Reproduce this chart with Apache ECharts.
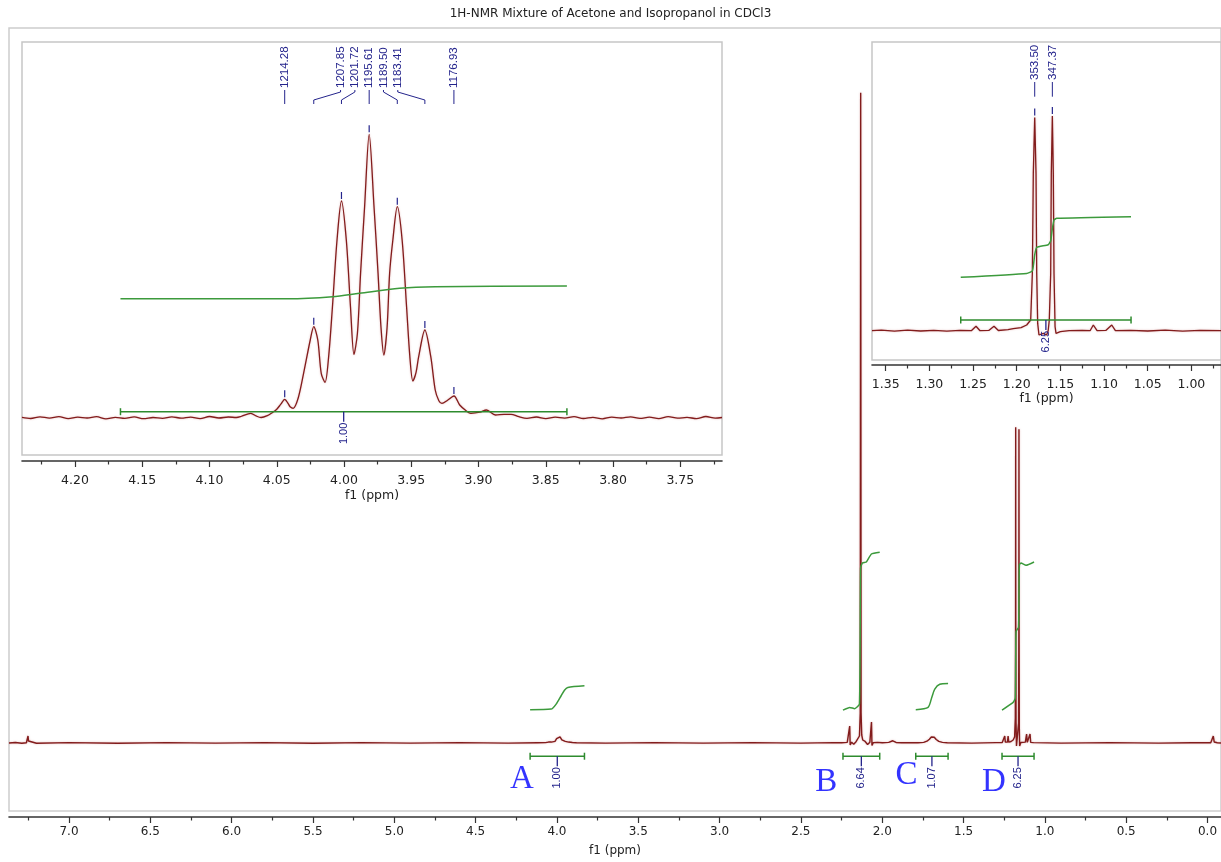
<!DOCTYPE html>
<html><head><meta charset="utf-8">
<script src="https://cdn.jsdelivr.net/npm/echarts@6/dist/echarts.min.js"></script>
<style>html,body{margin:0;padding:0;background:#fff}#c{width:1221px;height:862px}</style>
</head><body><div id="c"></div><script>
// ---------------- DATA ----------------
const titleText = '1H-NMR Mixture of Acetone and Isopropanol in CDCl3';
const axisName = 'f1 (ppm)';

// main spectrum [ppm, intensity]
const mainSpectrum = [
 [7.369,0],[7.33,0.4],[7.29,-0.3],[7.262,0.2],[7.255,2],[7.252,7],[7.249,2],[7.242,0.2],[7.20,-0.3],[7.0,0.3],[6.7,-0.3],[6.4,0.3],[6.1,-0.2],[5.8,0.3],[5.5,-0.3],[5.2,0.3],[4.9,-0.2],[4.6,0.3],[4.3,-0.2],[4.12,0.2],
 [4.07,0.3],[4.052,0.9],[4.044,1.3],[4.034,0.9],[4.023,2.4],[4.012,1.6],[4.002,4.4],[3.991,3.2],[3.981,6.2],[3.970,3.2],[3.960,4.4],[3.949,1.6],[3.939,2.3],[3.928,0.9],[3.918,1.2],[3.905,0.4],[3.88,0.2],
 [3.7,-0.2],[3.4,0.3],[3.1,-0.2],[2.8,0.3],[2.5,-0.2],[2.30,0.3],[2.25,0.2],
 [2.215,0.6],[2.203,0.4],[2.200,17],[2.197,-2],[2.188,0.8],[2.175,-1.2],[2.160,1.5],[2.148,3],[2.140,7],[2.135,30],[2.1325,652.7],[2.130,30],[2.126,8],[2.120,3],[2.105,1.5],[2.090,-1.5],[2.076,0.8],[2.069,0.4],[2.066,21],[2.063,-2.5],[2.055,0.3],[2.03,0.6],[2.0,0.2],[1.96,0.6],[1.935,2.2],[1.915,0.5],[1.88,0.2],
 [1.78,0.2],[1.745,0.6],[1.725,1.8],[1.71,3.8],[1.698,6],[1.690,7],[1.680,5.8],[1.668,3.5],[1.652,1.6],[1.63,0.6],[1.60,0.2],
 [1.45,-0.2],[1.30,0.3],[1.262,0.4],[1.250,0.8],[1.2466,7],[1.243,0.8],[1.230,0.8],[1.2260,7],[1.222,0.8],[1.208,1.5],[1.195,3],[1.186,6],[1.1815,25],[1.1800,120],[1.1794,317],[1.1788,120],[1.1772,20],[1.1745,-3],[1.1695,-2],[1.1650,-3],[1.1615,20],[1.1598,120],[1.1592,315],[1.1586,120],[1.1570,15],[1.1550,-3],[1.148,0.4],[1.120,0.8],[1.1123,9],[1.108,0.6],[1.096,0.6],[1.0912,9],[1.087,0.6],[1.07,0.3],
 [0.9,-0.2],[0.6,0.3],[0.3,-0.2],[0.1,0.2],[-0.02,0.2],[-0.030,1],[-0.0357,7],[-0.041,1],[-0.06,0.2],[-0.083,0]
];
// main integral curves
const integralA = [[4.1649,33.4],[4.0357,34],[4.0049,39],[3.9742,47.4],[3.9537,53],[3.9335,55.7],[3.8308,57.4]];
const integralB = [[2.2413,33],[2.2000,35.7],[2.1692,34.4],[2.1400,39],[2.1330,175.7],[2.1218,180.7],[2.0972,181.7],[2.0665,189.7],[2.0154,191.4]];
const integralC = [[1.7938,33.4],[1.7182,35.7],[1.6954,45.7],[1.6769,54],[1.6462,59],[1.5951,59.7]];
const integralD = [[1.2634,33],[1.1951,40.7],[1.1820,45],[1.1794,80],[1.1770,112],[1.1620,116],[1.1592,150],[1.1565,179],[1.1466,180.7],[1.1159,178.4],[1.0665,181.7]];
// main integration ranges
const mainRangeFrom = [4.1649, 2.2413, 1.7938, 1.2634];
const mainRangeTo = [3.8308, 2.0154, 1.5951, 1.0665];
const mainRangeValue = ['1.00', '6.64', '1.07', '6.25'];
// region letters
const letters = ['A', 'B', 'C', 'D'];
const letterPpm = [4.2154, 2.3434, 1.8511, 1.3126];
const letterH = [-36.3, -39.3, -32.3, -39.3];

// septet inset
const septetSpectrum = [
 [4.2394,0.3],[4.233,-0.8],[4.226,0.9],[4.219,-0.4],[4.212,1.1],[4.205,-0.9],[4.198,0.5],[4.191,-0.3],[4.184,1.0],[4.177,-1.2],[4.170,0.4],[4.163,-0.6],[4.156,0.8],[4.149,-1.0],[4.142,0.2],[4.135,-0.7],[4.128,0.9],[4.121,-0.5],[4.114,0.6],[4.107,-0.9],[4.100,1.2],[4.093,-0.3],[4.086,0.7],[4.080,0.2],
 [4.0766,1.2],[4.0693,4.4],[4.0650,1.5],[4.0617,0.2],[4.0570,2],[4.0534,5],[4.0500,8.5],[4.0470,13.5],[4.0441,18.4],[4.0415,14],[4.0401,11],[4.0378,9.4],[4.0340,20],[4.0301,44],[4.0251,77.7],[4.0225,91],[4.0195,77.7],[4.0169,44],[4.0141,35.4],[4.0115,60],[4.0086,111],[4.0052,177.7],[4.0019,216.7],[3.9983,177.7],[3.9952,111],[3.9926,63.3],[3.9900,85],[3.9877,144.3],[3.9847,211],[3.9813,283.4],[3.9777,211],[3.9747,144.3],[3.9725,90],[3.9704,62.7],[3.9680,90],[3.9661,144.3],[3.9637,177.7],[3.9604,211],[3.9568,177.7],[3.9535,111],[3.9510,60],[3.9488,36.7],[3.9465,45],[3.9445,61],[3.9399,87.7],[3.9355,61],[3.9322,27.7],[3.9295,17],[3.9272,14.3],[3.9230,17.5],[3.9183,21.7],[3.9140,12.7],[3.9090,6.7],[3.9057,4.4],[3.8990,5.5],[3.8941,7.7],[3.8874,2.7],[3.8810,3.4],[3.8758,3.4],[3.8700,1.0],
 [3.864,-0.6],[3.857,0.7],[3.850,-0.9],[3.843,0.5],[3.836,-0.4],[3.829,1.0],[3.822,-0.8],[3.815,0.4],[3.808,-1.1],[3.801,0.6],[3.794,-0.3],[3.787,0.9],[3.780,-0.7],[3.773,0.5],[3.766,-1.0],[3.759,1.1],[3.752,-0.5],[3.745,0.3],[3.738,-0.9],[3.731,1.2],[3.724,-0.4],[3.719,0.2]
];
const septetIntegral = [[4.1662,119],[4.0417,119],[4.0086,121],[3.9886,124.4],[3.9587,129.4],[3.9322,131],[3.8343,131.7]];
const septetRangeFrom = [4.1662];
const septetRangeTo = [3.8343];
const septetRangeValue = ['1.00'];
const septetPeakPpm = [4.0441, 4.0225, 4.0019, 3.9813, 3.9604, 3.9399, 3.9183];
const septetPeakH = [18.4, 91, 216.7, 283.4, 211, 87.7, 21.7];
const septetPeakText = ['1214.28', '1207.85', '1201.72', '1195.61', '1189.50', '1183.41', '1176.93'];

// doublet inset
const doubletSpectrum = [
 [1.3657,0],[1.355,0.5],[1.34,-0.4],[1.325,0.6],[1.31,-0.3],[1.295,0.4],[1.28,-0.5],[1.265,0.3],[1.252,0],[1.2466,4.5],[1.242,0],[1.232,0.3],[1.2260,4.5],[1.221,0.2],[1.21,1],[1.2039,2],[1.195,3],[1.1886,5.7],[1.1840,10.7],[1.1821,57.3],[1.1810,157.3],[1.1794,213.3],[1.1779,157.3],[1.1771,57.3],[1.1760,7.3],[1.1745,-4.3],[1.1695,-2.7],[1.1657,-4.3],[1.1640,0],[1.1627,10.7],[1.1611,57.3],[1.1604,157.3],[1.1592,214.7],[1.1581,157.3],[1.1573,57.3],[1.1561,4],[1.1550,-2.7],[1.150,-1],[1.140,0],[1.125,0.3],[1.116,0],[1.1123,5.7],[1.108,0],[1.098,0.3],[1.0912,5.7],[1.087,0],[1.07,0.4],[1.05,-0.3],[1.03,0.5],[1.01,-0.4],[0.99,0.3],[0.9661,0]
];
const doubletIntegral = [[1.2641,53.4],[1.1886,57.3],[1.1820,60],[1.1794,76],[1.1771,83.3],[1.1640,86],[1.1611,90],[1.1592,102],[1.1573,110.7],[1.1542,112.4],[1.0691,114]];
const doubletRangeFrom = [1.2641];
const doubletRangeTo = [1.0691];
const doubletRangeValue = ['6.25'];
const doubletPeakPpm = [1.1794, 1.1592];
const doubletPeakH = [213.3, 214.7];
const doubletPeakText = ['353.50', '347.37'];

// tick values
const mainTickValues = [0,0.5,1,1.5,2,2.5,3,3.5,4,4.5,5,5.5,6,6.5,7];
const mainMinorTickValues = [0.25,0.75,1.25,1.75,2.25,2.75,3.25,3.75,4.25,4.75,5.25,5.75,6.25,6.75,7.25];
const septetTickValues = [3.75,3.80,3.85,3.90,3.95,4.00,4.05,4.10,4.15,4.20];
const septetMinorTickValues = [3.725,3.775,3.825,3.875,3.925,3.975,4.025,4.075,4.125,4.175,4.225];
const doubletTickValues = [1.00,1.05,1.10,1.15,1.20,1.25,1.30,1.35];
const doubletMinorTickValues = [0.975,1.025,1.075,1.125,1.175,1.225,1.275,1.325];

// ---------------- STYLE / BUILD ----------------
const RED = '#821c1c', GREEN = '#3c9a3c', BRACKET = '#2e8b2e', NAVY = '#24248c', BLUE = '#0000ff';
const AX = '#333', TXT = '#222';
const FONT = 'DejaVu Sans';
const LBLFONT = '11.5px "Liberation Sans", sans-serif';

function xMajor(g, min, max, offset, values, digits, margin, nameGap, fs) {
  return {gridIndex:g, type:'value', inverse:true, min, max, position:'bottom', offset,
    axisLine:{show:true, onZero:false, lineStyle:{color:AX, width:1.6}},
    axisTick:{show:true, customValues:values, length:6, lineStyle:{color:AX, width:1.2}},
    axisLabel:{show:true, customValues:values, formatter:v => Number(v).toFixed(digits), margin, color:TXT, fontSize:fs, fontFamily:FONT},
    splitLine:{show:false}, minorTick:{show:false},
    name:axisName, nameLocation:'middle', nameGap, nameTextStyle:{color:TXT, fontSize:fs, fontFamily:FONT}};
}
function xMinor(g, min, max, offset, values) {
  return {gridIndex:g, type:'value', inverse:true, min, max, position:'bottom', offset,
    axisLine:{show:false, onZero:false},
    axisTick:{show:true, customValues:values, length:3.5, lineStyle:{color:AX, width:1.2}},
    axisLabel:{show:false}, splitLine:{show:false}};
}
function yAx(g, min, max) {
  return {gridIndex:g, type:'value', min, max, show:false, splitLine:{show:false}};
}
function lineS(data, xi, yi, color, width, smooth, z, glow) {
  const ls = {color, width};
  if (glow) { ls.shadowColor = glow; ls.shadowBlur = 2; }
  return {type:'line', xAxisIndex:xi, yAxisIndex:yi, data, symbol:'none', showSymbol:false, smooth:smooth || false,
    lineStyle:ls, z:z || 3, silent:true, animation:false};
}
function bracketSeries(xi, yi, from, to, values, h) {
  return {type:'custom', xAxisIndex:xi, yAxisIndex:yi, coordinateSystem:'cartesian2d', silent:true, z:5,
    encode:{x:[0,1], y:2}, data: from.map((f, i) => [f, to[i], h]),
    renderItem: (params, api) => {
      const a = api.value(0), b = api.value(1), hh = api.value(2);
      const p1 = api.coord([a, hh]), p2 = api.coord([b, hh]), pc = api.coord([(a + b) / 2, hh]);
      const cap = 3.5, tick = 10;
      return {type:'group', children:[
        {type:'line', shape:{x1:p1[0], y1:p1[1], x2:p2[0], y2:p2[1]}, style:{stroke:BRACKET, lineWidth:1.5}},
        {type:'line', shape:{x1:p1[0], y1:p1[1]-cap, x2:p1[0], y2:p1[1]+cap}, style:{stroke:BRACKET, lineWidth:1.5}},
        {type:'line', shape:{x1:p2[0], y1:p2[1]-cap, x2:p2[0], y2:p2[1]+cap}, style:{stroke:BRACKET, lineWidth:1.5}},
        {type:'line', shape:{x1:pc[0], y1:pc[1], x2:pc[0], y2:pc[1]+tick}, style:{stroke:NAVY, lineWidth:1.3}},
        {type:'text', x:pc[0], y:pc[1]+tick+1, rotation:Math.PI/2,
          style:{text:values[params.dataIndex], fill:NAVY, font:'11px "Liberation Sans", sans-serif', align:'right', verticalAlign:'middle', textAlign:'right', textVerticalAlign:'middle'}}
      ]};
    }};
}
function peakLabelSeries(xi, yi, ppm, hs, texts, opt) {
  return {type:'custom', xAxisIndex:xi, yAxisIndex:yi, coordinateSystem:'cartesian2d', silent:true, z:6,
    encode:{x:0, y:1}, data: ppm.map((p, i) => [p, hs[i]]),
    renderItem: (params, api) => {
      const i = params.dataIndex;
      const top = api.coord([api.value(0), api.value(1)]);
      const gy = params.coordSys.y;
      let lx = top[0];
      if (opt.fan && i >= opt.fan[0] && i <= opt.fan[1]) {
        const c = api.coord([ppm[opt.fanCenter], 0])[0];
        lx = c + (i - opt.fanCenter) * opt.fanGap;
      }
      const yb = gy + opt.textBottom;
      const yEnd = gy + opt.connEnd;
      const pts = Math.abs(lx - top[0]) < 0.6 ? [[top[0], yb + 2], [top[0], yEnd]]
        : [[lx, yb + 2], [lx, yb + 4], [top[0], yEnd - 4], [top[0], yEnd]];
      return {type:'group', children:[
        {type:'line', shape:{x1:top[0], y1:top[1]-2, x2:top[0], y2:top[1]-9}, style:{stroke:NAVY, lineWidth:1.2}},
        {type:'polyline', shape:{points:pts}, style:{stroke:NAVY, fill:null, lineWidth:1}},
        {type:'text', x:lx, y:yb, rotation:Math.PI/2,
          style:{text:texts[i], fill:NAVY, font:LBLFONT, align:'left', verticalAlign:'middle', textAlign:'left', textVerticalAlign:'middle'}}
      ]};
    }};
}

const GLOW = 'rgba(200,120,120,0.55)';
const chart = echarts.init(document.getElementById('c'), null, {renderer:'canvas'});
chart.setOption({
  animation:false,
  backgroundColor:'#fff',
  title:{text:titleText, left:'center', top:3, textStyle:{fontSize:12, fontWeight:'normal', color:TXT, fontFamily:FONT}},
  grid:[
    {left:9, top:28, width:1212, height:786, show:true, borderColor:'#cdcdcd', borderWidth:1.5, backgroundColor:'#fff'},
    {left:22, top:42, width:700, height:413, show:true, borderColor:'#c6c6c6', borderWidth:1.5, backgroundColor:'#fff'},
    {left:872, top:42, width:350, height:318, show:true, borderColor:'#c6c6c6', borderWidth:1.5, backgroundColor:'#fff'}
  ],
  xAxis:[
    xMajor(0, -0.083, 7.369, 6, mainTickValues, 1, 9, 28, 12),
    xMinor(0, -0.083, 7.369, 6, mainMinorTickValues),
    xMajor(1, 3.7190, 4.2394, 6, septetTickValues, 2, 13, 28, 12.5),
    xMinor(1, 3.7190, 4.2394, 6, septetMinorTickValues),
    xMajor(2, 0.9661, 1.3657, 5, doubletTickValues, 2, 13, 27, 12.5),
    xMinor(2, 0.9661, 1.3657, 5, doubletMinorTickValues)
  ],
  yAxis:[ yAx(0, -68.3, 717.7), yAx(1, -37.3, 375.7), yAx(2, -29.3, 288.7) ],
  series:[
    lineS(mainSpectrum, 0, 0, RED, 1.4, false, 3, GLOW),
    lineS(integralA, 0, 0, GREEN, 1.5, 0.25, 4),
    lineS(integralB, 0, 0, GREEN, 1.5, 0.15, 4),
    lineS(integralC, 0, 0, GREEN, 1.5, 0.25, 4),
    lineS(integralD, 0, 0, GREEN, 1.5, 0.15, 4),
    bracketSeries(0, 0, mainRangeFrom, mainRangeTo, mainRangeValue, -13.3),
    {type:'scatter', xAxisIndex:0, yAxisIndex:0, silent:true, symbolSize:1, itemStyle:{color:'rgba(0,0,0,0)'}, z:6,
     data: letterPpm.map((p, i) => [p, letterH[i]]),
     label:{show:true, position:'inside', formatter:p => letters[p.dataIndex], color:BLUE, fontSize:33, fontFamily:'Liberation Serif'}},
    lineS(septetSpectrum, 2, 1, RED, 1.3, 0.3, 3, GLOW),
    lineS(septetIntegral, 2, 1, GREEN, 1.6, 0.3, 4),
    bracketSeries(2, 1, septetRangeFrom, septetRangeTo, septetRangeValue, 6),
    peakLabelSeries(2, 1, septetPeakPpm, septetPeakH, septetPeakText, {fan:[1,5], fanCenter:3, fanGap:14.3, textBottom:46, connEnd:62}),
    lineS(doubletSpectrum, 4, 2, RED, 1.3, false, 3, GLOW),
    lineS(doubletIntegral, 4, 2, GREEN, 1.5, 0.15, 4),
    bracketSeries(4, 2, doubletRangeFrom, doubletRangeTo, doubletRangeValue, 10.7),
    peakLabelSeries(4, 2, doubletPeakPpm, doubletPeakH, doubletPeakText, {textBottom:38, connEnd:54.7})
  ]
});
</script></body></html>
